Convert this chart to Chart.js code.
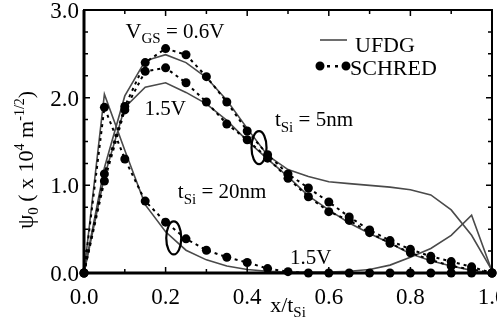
<!DOCTYPE html>
<html>
<head>
<meta charset="utf-8">
<script src="https://cdn.jsdelivr.net/npm/chart.js@4/dist/chart.umd.min.js"></script>
<style>
html, body { margin: 0; padding: 0; background: #fff; }
</style>
</head>
<body>
<canvas id="grafico" width="497" height="327"></canvas>
<script>
// x/tSi sample positions
var xPos = [0, 0.05, 0.1, 0.15, 0.2, 0.25, 0.3, 0.35, 0.4, 0.45, 0.5,
            0.55, 0.6, 0.65, 0.7, 0.75, 0.8, 0.85, 0.9, 0.95, 1.0];

// UFDG (solid lines)
var ufdg5nm06 = [0, 1.20, 2.02, 2.42, 2.49, 2.40, 2.23, 1.97, 1.65, 1.34, 1.18,
                 1.10, 1.04, 1.02, 1.00, 0.98, 0.95, 0.89, 0.72, 0.43, 0.03];
var ufdg5nm15 = [0, 1.10, 1.89, 2.12, 2.17, 2.06, 1.93, 1.74, 1.51, 1.30, 1.10,
                 0.88, 0.72, 0.57, 0.45, 0.34, 0.22, 0.14, 0.08, 0.03, 0];
var ufdg20nm = [0, 2.04, 1.40, 0.78, 0.47, 0.26, 0.15, 0.08, 0.04, 0.02, 0.01,
                0.01, 0.01, 0.02, 0.04, 0.09, 0.18, 0.28, 0.43, 0.66, 0.02];

// SCHRED (dots)
var schred5nm06 = [0, 1.13, 1.90, 2.40, 2.56, 2.49, 2.24, 1.95, 1.62, 1.35, 1.13,
                   0.97, 0.81, 0.64, 0.49, 0.37, 0.27, 0.19, 0.13, 0.07, 0];
var schred5nm15 = [0, 1.05, 1.86, 2.30, 2.34, 2.17, 1.95, 1.70, 1.52, 1.31, 1.08,
                   0.87, 0.70, 0.60, 0.46, 0.34, 0.23, 0.15, 0.08, 0.04, 0];
var schred20nm = [0, 1.89, 1.30, 0.82, 0.58, 0.39, 0.26, 0.18, 0.12, 0.05, 0.015,
                  0, 0, 0, 0, 0, 0, 0, 0, 0, 0];

var xTicks = [0, 0.2, 0.4, 0.6, 0.8, 1.0];
var yTicks = [0, 1, 2, 3];

var serif = '"Liberation Serif", "Times New Roman", serif';

function pts(ys) {
    return ys.map(function (y, i) { return { x: xPos[i], y: y }; });
}

function schred(ys) {
    return {
        data: pts(ys),
        borderColor: '#000',
        borderWidth: 2,
        borderDash: [3, 4],
        pointRadius: 4.5,
        pointBackgroundColor: '#000',
        pointBorderWidth: 0,
        clip: false
    };
}

function ufdg(ys) {
    return {
        data: pts(ys),
        borderColor: '#4a4a4a',
        borderWidth: 1.6,
        pointRadius: 0,
        clip: false
    };
}

// text with sub/superscripts: [text, size, dy]
function drawRich(ctx, parts, x, y, align) {
    var w = 0;
    parts.forEach(function (p) {
        ctx.font = p[1] + 'px ' + serif;
        w += ctx.measureText(p[0]).width;
    });
    var cx = align === 'center' ? x - w / 2 : x;
    ctx.textAlign = 'left';
    ctx.textBaseline = 'alphabetic';
    parts.forEach(function (p) {
        ctx.font = p[1] + 'px ' + serif;
        ctx.fillText(p[0], cx, y + (p[2] || 0));
        cx += ctx.measureText(p[0]).width;
    });
}

var decor = {
    id: 'decor',
    afterDatasetsDraw: function (chart) {
        var ctx = chart.ctx, a = chart.chartArea;
        var sx = chart.scales.x, sy = chart.scales.y;
        ctx.save();
        ctx.fillStyle = '#000';
        ctx.strokeStyle = '#000';

        // frame
        ctx.lineWidth = 2;
        ctx.strokeRect(a.left, a.top, a.right - a.left, a.bottom - a.top);
        ctx.lineWidth = 3;
        ctx.beginPath();
        ctx.moveTo(a.left, a.top); ctx.lineTo(a.left, a.bottom); ctx.lineTo(a.right, a.bottom);
        ctx.stroke();

        // inward ticks
        ctx.lineWidth = 1.5;
        ctx.beginPath();
        for (var i = 0; i <= 10; i++) {
            var px = sx.getPixelForValue(i / 10);
            var len = i % 2 === 0 ? 6 : 4;
            ctx.moveTo(px, a.bottom); ctx.lineTo(px, a.bottom - len);
            ctx.moveTo(px, a.top); ctx.lineTo(px, a.top + len);
        }
        for (var j = 0; j <= 12; j++) {
            var py = sy.getPixelForValue(j / 4);
            var l2 = j % 4 === 0 ? 6 : 4;
            ctx.moveTo(a.left, py); ctx.lineTo(a.left + l2, py);
            ctx.moveTo(a.right, py); ctx.lineTo(a.right - l2, py);
        }
        ctx.stroke();

        // annotations
        var notes = [
            { x: 0.223, y: 2.68, align: 'center', parts: [['V', 22], ['GS', 15, 5], [' = 0.6V', 21]] },
            { x: 0.199, y: 1.80, align: 'center', parts: [['1.5V', 21]] },
            { x: 0.468, y: 1.68, align: 'left', parts: [['t', 21], ['Si', 15, 6], [' = 5nm', 21]] },
            { x: 0.230, y: 0.86, align: 'left', parts: [['t', 21], ['Si', 15, 6], [' = 20nm', 21]] },
            { x: 0.505, y: 0.10, align: 'left', parts: [['1.5V', 21]] }
        ];
        notes.forEach(function (n) {
            drawRich(ctx, n.parts, sx.getPixelForValue(n.x), sy.getPixelForValue(n.y), n.align);
        });

        // ellipses
        ctx.lineWidth = 2.2;
        [[0.429, 1.43], [0.22, 0.40]].forEach(function (e) {
            ctx.beginPath();
            ctx.ellipse(sx.getPixelForValue(e[0]), sy.getPixelForValue(e[1]), 7.5, 16.5, 0, 0, Math.PI * 2);
            ctx.stroke();
        });

        // legend
        var lx = a.right - 172, ly = a.top;
        ctx.strokeStyle = '#4a4a4a';
        ctx.lineWidth = 1.6;
        ctx.beginPath();
        ctx.moveTo(lx, ly + 30); ctx.lineTo(lx + 27, ly + 30);
        ctx.stroke();
        drawRich(ctx, [['UFDG', 22]], lx + 35, ly + 42, 'left');
        ctx.beginPath();
        ctx.arc(lx, ly + 56, 4.5, 0, Math.PI * 2);
        ctx.arc(lx + 26, ly + 56, 4.5, 0, Math.PI * 2);
        ctx.fill();
        ctx.fillRect(lx + 7, ly + 55, 3, 2.5);
        ctx.fillRect(lx + 15, ly + 55, 3, 2.5);
        drawRich(ctx, [['SCHRED', 22]], lx + 30, ly + 65, 'left');

        // axis titles
        drawRich(ctx, [['x/t', 22], ['Si', 15, 5]], (a.left + a.right) / 2, a.bottom + 39, 'center');
        ctx.translate(33, 160);
        ctx.rotate(-Math.PI / 2);
        drawRich(ctx, [['\u03C8', 23], ['0', 15, 5], [' ( x 10', 22], ['4', 14, -9], [' m', 22],
                       ['-1/2', 14, -9], [')', 22]], 0, 0, 'center');
        ctx.restore();
    }
};

var ctx = document.querySelector('#grafico').getContext('2d');
var chart = new Chart(ctx, {
    type: 'line',
    data: {
        datasets: [
            schred(schred5nm06),
            schred(schred5nm15),
            schred(schred20nm),
            ufdg(ufdg5nm06),
            ufdg(ufdg5nm15),
            ufdg(ufdg20nm)
        ]
    },
    options: {
        responsive: false,
        animation: false,
        layout: { padding: { top: 10, right: 5, left: 0, bottom: 0 } },
        plugins: { legend: { display: false }, tooltip: { enabled: false } },
        scales: {
            x: {
                type: 'linear', min: 0, max: 1,
                grid: { display: false, drawTicks: false },
                border: { display: false },
                afterBuildTicks: function (s) { s.ticks = xTicks.map(function (v) { return { value: v }; }); },
                ticks: {
                    padding: 11, color: '#000', maxRotation: 0, autoSkip: false,
                    font: { family: serif, size: 23 },
                    callback: function (v) { return Number(v).toFixed(1); }
                },
                afterFit: function (s) { s.height = 54; s.paddingLeft = 0; s.paddingRight = 0; }
            },
            y: {
                min: 0, max: 3,
                grid: { display: false, drawTicks: false },
                border: { display: false },
                afterBuildTicks: function (s) { s.ticks = yTicks.map(function (v) { return { value: v }; }); },
                ticks: {
                    padding: 5, color: '#000', labelOffset: 2,
                    font: { family: serif, size: 23 },
                    callback: function (v) { return Number(v).toFixed(1); }
                },
                afterFit: function (s) { s.width = 84; s.paddingTop = 0; s.paddingBottom = 0; }
            }
        }
    },
    plugins: [decor]
});
</script>
</body>
</html>
